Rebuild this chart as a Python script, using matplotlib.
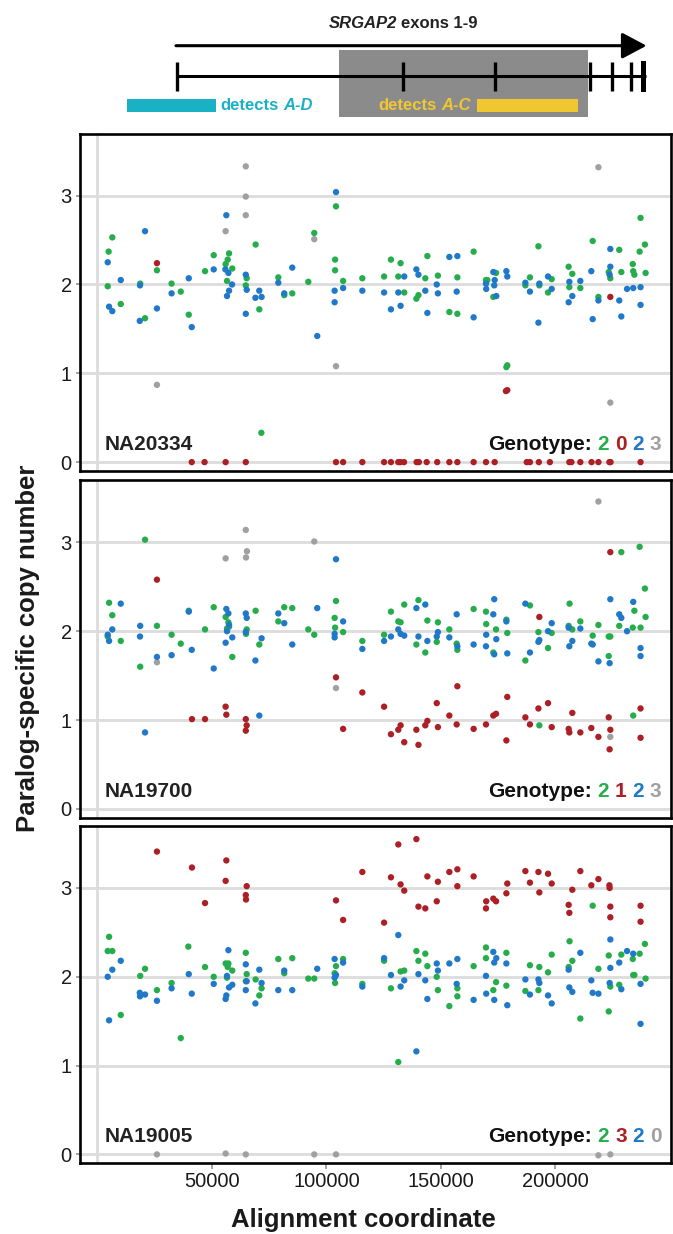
import numpy as np
import matplotlib
matplotlib.use("Agg")
import matplotlib.pyplot as plt
from matplotlib.offsetbox import TextArea, HPacker, AnnotationBbox
from matplotlib.patches import Rectangle, FancyArrowPatch

FONT = ["Liberation Sans", "DejaVu Sans"]
plt.rcParams["font.family"] = FONT

GREEN = "#25ad4b"
RED = "#ab1f25"
BLUE = "#1f78c8"
GRAY = "#a0a0a0"
GRID = "#dcdcdc"

SAMPLES = ["NA20334", "NA19700", "NA19005"]
GENOTYPES = [["2", "0", "2", "3"], ["2", "1", "2", "3"], ["2", "3", "2", "0"]]
XTICKS = [50000, 100000, 150000, 200000]
YTICKS = [0, 1, 2, 3]

# ---------------- gene diagram (alignment coordinates, kb) ----------------
GENE_START_KB = 34.3
GENE_END_KB = 239.8
EXON_TICKS_KB = [34.6, 133.6, 173.5, 215.0, 224.6, 232.9]
LAST_EXON_KB = [237.3, 239.7]
SHADED_KB = [105.7, 214.3]
PROBE_AD_KB = [13.1, 51.9]
PROBE_AC_KB = [165.8, 209.9]

# ---------------- panel 1: NA20334 (x in kb) ----------------
P1_GRAY_X = [64.8, 64.8, 64.8, 56.0, 94.7, 26.0, 104.2, 218.8, 224.0]
P1_GRAY_Y = [3.33, 2.99, 2.78, 2.60, 2.51, 0.87, 1.08, 3.32, 0.67]
P1_RED_X = [26.0, 224.0, 178.4, 179.0,
            41.2, 46.8, 56.0, 64.8, 104.2, 107.3, 115.7,
            125.2, 128.2, 131.4, 132.3, 133.9, 139.4, 140.4, 143.8, 148.4, 153.7,
            157.2, 164.3, 169.7, 173.5, 187.5, 188.9, 192.8, 197.6, 206.1, 207.0,
            210.9, 215.8, 218.8, 223.6, 224.1, 237.2]
P1_RED_Y = [2.24, 1.86, 0.80, 0.81,
            0.0, 0.0, 0.0, 0.0, 0.0, 0.0, 0.0,
            0.0, 0.0, 0.0, 0.0, 0.0, 0.0, 0.0, 0.0, 0.0, 0.0,
            0.0, 0.0, 0.0, 0.0, 0.0, 0.0, 0.0, 0.0, 0.0, 0.0,
            0.0, 0.0, 0.0, 0.0, 0.0, 0.0]
P1_GREEN_X = [6.5, 4.9, 4.5, 10.2, 18.7, 20.8, 26.0, 32.4, 36.4, 39.9, 47.0, 50.8, 57.5,
              56.9, 56.0, 58.9, 56.6, 65.2, 64.8, 69.1, 70.7, 71.6, 79.0, 81.6, 85.1, 92.1,
              94.7, 104.2, 103.8, 103.8, 107.3, 115.7,
              178.6, 179.0, 125.2, 128.2, 131.4, 132.4, 134.0, 139.3, 140.2, 143.2, 144.1,
              148.7, 153.7, 157.2, 157.2, 164.3, 169.7, 170.3, 174.1, 172.9, 186.9, 188.9,
              192.6, 193.0, 198.4, 196.8, 205.8, 207.4, 206.1, 210.9, 216.3, 218.8, 223.3,
              224.0, 227.9, 228.8, 233.8, 234.0, 234.5, 237.2, 236.8, 239.1, 239.4]
P1_GREEN_Y = [2.53, 2.37, 1.98, 1.78, 2.01, 1.62, 2.16, 2.01, 1.92, 1.66, 2.15, 2.33, 2.35,
              2.28, 2.23, 2.18, 2.04, 2.07, 1.99, 2.45, 1.72, 0.33, 2.08, 1.88, 1.90, 2.03,
              2.58, 2.88, 2.28, 2.16, 2.04, 2.07,
              1.07, 1.09, 2.09, 2.28, 2.09, 2.24, 1.91, 1.84, 1.88, 2.07, 2.32,
              2.10, 1.69, 2.08, 1.67, 2.37, 2.05, 2.05, 2.13, 1.86, 1.99, 2.08,
              2.43, 1.99, 2.06, 1.91, 2.20, 2.12, 1.97, 1.96, 2.49, 1.86, 2.14,
              2.07, 2.39, 2.14, 2.23, 2.15, 2.11, 2.75, 2.37, 2.45, 2.13]
P1_BLUE_X = [4.5, 20.8, 10.2, 18.6, 5.1, 6.5, 18.5, 26.0, 32.4, 39.9, 41.2, 50.8, 56.3,
             55.9, 57.2, 58.8, 57.5, 56.6, 64.8, 65.2, 64.8, 69.0, 70.7, 71.7, 79.0, 81.6,
             85.1, 96.0, 104.2, 103.6, 103.6, 107.3, 115.7,
             125.2, 128.2, 131.4, 132.4, 134.0, 139.3, 140.2, 143.2, 144.1, 148.2, 148.7,
             153.7, 157.2, 156.9, 164.3, 169.7, 169.8, 173.5, 172.9, 173.3, 174.2, 178.6,
             179.0, 186.9, 188.9, 192.6, 193.0, 196.8, 198.4, 205.8, 206.1, 207.4, 210.9,
             216.3, 215.7, 218.8, 224.0, 224.0, 223.7, 227.9, 228.8, 231.3, 234.0, 237.2, 237.2]
P1_BLUE_Y = [2.25, 2.60, 2.05, 1.99, 1.75, 1.70, 1.59, 1.73, 1.90, 2.07, 1.52, 2.17, 2.78,
             2.17, 2.13, 2.00, 1.93, 1.87, 2.11, 1.94, 1.67, 1.85, 1.93, 1.86, 2.02, 1.90,
             2.19, 1.42, 3.04, 1.93, 1.80, 1.96, 1.93,
             1.91, 1.72, 1.91, 1.76, 2.09, 2.17, 2.11, 1.93, 1.68, 2.00, 1.90,
             2.31, 2.32, 1.92, 1.63, 2.01, 1.95, 2.05, 2.14, 1.99, 1.87, 2.15,
             2.09, 2.02, 1.92, 1.57, 2.01, 2.09, 1.95, 1.80, 2.03, 1.87, 2.04,
             1.61, 2.15, 1.82, 2.40, 2.20, 2.11, 1.82, 1.64, 1.95, 1.96, 1.97, 1.77]

# ---------------- panel 2: NA19700 ----------------
P2_GRAY_X = [64.8, 65.3, 64.9, 56.0, 94.7, 26.0, 104.2, 218.8, 224.0]
P2_GRAY_Y = [3.14, 2.90, 2.83, 2.82, 3.01, 1.65, 1.36, 3.46, 0.81]
P2_RED_X = [26.0, 41.3, 47.0, 56.0, 56.3, 64.8, 65.2, 64.8, 104.2, 115.7, 107.3,
            224.0, 125.2, 128.2, 131.4, 132.4, 134.0, 139.3, 140.2, 143.2, 144.1,
            148.2, 148.7, 153.7, 157.2, 156.9, 164.3, 169.7, 172.9, 174.1, 179.0,
            178.6, 186.9, 188.9, 192.6, 193.0, 196.8, 198.4, 205.8, 206.1, 207.4,
            210.9, 215.7, 218.8, 223.3, 224.0, 223.7, 237.2, 237.2]
P2_RED_Y = [2.58, 1.01, 1.01, 1.15, 1.06, 1.01, 0.94, 0.88, 1.48, 1.31, 0.90,
            2.89, 1.15, 0.84, 0.89, 0.94, 0.75, 0.89, 0.72, 0.94, 0.99,
            1.19, 0.92, 1.05, 1.38, 0.95, 0.90, 0.95, 1.05, 1.07, 1.26,
            0.77, 1.03, 0.95, 1.13, 2.16, 1.19, 0.92, 0.90, 0.86, 1.08,
            0.86, 0.91, 0.81, 1.03, 0.89, 0.67, 1.13, 0.80]
P2_GREEN_X = [20.8, 5.1, 6.5, 4.5, 10.2, 18.7, 26.0, 32.4, 36.4, 39.9, 47.0, 50.8, 56.0,
              57.2, 56.6, 57.5, 58.9, 69.1, 65.2, 64.9, 70.7, 79.0, 81.6, 85.1, 92.1, 94.7,
              104.2, 103.6, 103.8, 107.3, 115.7,
              228.8, 236.8, 239.1, 239.4, 237.2, 233.8, 234.5, 234.0, 227.9, 218.8, 224.0,
              223.3, 223.3, 216.3, 210.9, 206.2, 205.8, 207.4, 198.4, 196.8, 193.0, 192.6,
              188.9, 186.9, 179.0, 178.6, 174.1, 172.9, 169.8, 169.7, 164.3, 157.2, 156.9,
              153.7, 148.7, 148.2, 144.1, 143.2, 139.3, 140.2, 134.0, 132.4, 131.4, 128.2, 125.2]
P2_GREEN_Y = [3.03, 2.32, 2.18, 1.94, 1.89, 1.60, 2.06, 1.96, 1.86, 2.23, 2.02, 2.27, 2.16,
              2.10, 2.03, 2.05, 1.71, 2.23, 2.02, 1.97, 1.85, 2.11, 2.27, 2.26, 2.02, 1.96,
              2.34, 2.15, 2.04, 1.99, 1.89,
              2.89, 2.95, 2.48, 2.16, 2.04, 2.04, 2.23, 1.05, 2.06, 2.07, 1.94,
              1.94, 1.72, 1.95, 2.11, 2.31, 2.06, 2.02, 1.98, 1.81, 0.94, 1.99,
              2.29, 1.67, 1.98, 2.13, 2.02, 1.76, 2.08, 2.22, 2.25, 1.79, 1.86,
              2.02, 2.10, 1.88, 2.12, 1.76, 1.85, 2.35, 2.30, 2.10, 2.11, 2.22, 1.96]
P2_BLUE_X = [10.2, 6.5, 4.5, 5.1, 18.7, 18.6, 26.0, 32.4, 39.9, 41.2, 50.8, 56.0, 56.3,
             57.2, 57.5, 56.6, 58.9, 64.8, 65.2, 64.8, 69.0, 70.7, 71.7, 79.0, 81.6, 85.1,
             96.0, 104.2, 103.6, 103.6, 107.3, 115.7, 20.8,
             125.2, 128.2, 131.4, 132.4, 134.0, 139.3, 140.2, 143.2, 144.1, 148.2, 148.7,
             153.7, 157.2, 156.9, 164.3, 169.7, 169.8, 173.3, 172.9, 174.2, 173.3, 178.6,
             179.0, 186.9, 188.9, 192.6, 193.0, 196.8, 198.4, 205.8, 206.1, 207.4, 210.9,
             215.7, 216.3, 218.8, 224.0, 227.9, 228.8, 231.3, 234.0, 223.7, 237.2, 237.2]
P2_BLUE_Y = [2.31, 2.02, 1.96, 1.89, 2.06, 1.94, 1.71, 1.73, 2.22, 1.79, 1.58, 1.87, 2.25,
             2.20, 2.07, 2.00, 1.93, 2.20, 2.15, 1.99, 1.67, 1.05, 1.92, 2.20, 2.09, 1.85,
             2.26, 2.81, 1.97, 1.93, 2.11, 1.80, 0.86,
             1.89, 1.94, 2.02, 1.97, 1.95, 2.26, 1.94, 2.30, 1.89, 1.94, 1.99,
             1.93, 1.83, 2.19, 1.85, 1.83, 1.96, 2.36, 2.19, 1.91, 1.74, 2.11,
             1.75, 2.31, 1.76, 1.88, 1.90, 2.00, 2.09, 2.04, 1.83, 1.89, 2.03,
             1.86, 1.85, 1.66, 2.36, 2.19, 2.15, 2.00, 2.33, 1.64, 1.81, 1.72]

# ---------------- panel 3: NA19005 ----------------
P3_GRAY_X = [26.0, 56.0, 64.8, 94.7, 104.2, 218.8, 224.0]
P3_GRAY_Y = [0.0, 0.01, 0.0, 0.0, 0.0, -0.01, 0.0]
P3_RED_X = [26.0, 41.3, 56.3, 56.0, 65.2, 64.8, 64.9, 47.0, 104.2, 107.3, 115.7,
            125.2, 128.2, 131.4, 132.4, 134.0, 139.3, 140.2, 143.2, 144.1, 148.2,
            148.7, 153.7, 157.2, 157.2, 164.3, 169.7, 169.8, 172.9, 174.1, 178.6,
            179.0, 186.9, 188.9, 192.6, 193.0, 196.8, 198.4, 205.8, 206.1, 207.4,
            210.9, 215.7, 218.8, 223.6, 223.7, 224.0, 224.0, 237.2, 237.2]
P3_RED_Y = [3.41, 3.23, 3.31, 3.08, 3.02, 2.92, 2.87, 2.83, 2.86, 2.64, 3.18,
            2.61, 3.12, 3.49, 3.04, 2.97, 3.55, 2.79, 2.77, 3.13, 2.85,
            3.07, 3.18, 3.21, 3.02, 3.13, 2.77, 2.85, 2.88, 2.85, 2.94,
            3.05, 3.19, 3.06, 3.18, 2.95, 3.16, 3.05, 2.81, 2.72, 2.98,
            3.19, 3.03, 3.10, 3.03, 3.00, 2.79, 2.67, 2.80, 2.62]
P3_GREEN_X = [5.1, 4.5, 6.5, 39.7, 10.2, 36.4, 20.8, 18.7, 26.0, 32.4, 47.0, 50.8, 56.0,
              57.2, 56.9, 58.9, 56.6, 64.8, 65.2, 64.8, 69.1, 71.7, 70.7, 79.0, 81.6, 85.1,
              92.1, 94.7, 104.2, 103.6, 103.8, 107.3, 115.7,
              125.2, 128.2, 132.4, 134.0, 139.3, 140.2, 143.2, 144.1, 148.2, 148.7, 153.7,
              157.2, 157.2, 164.3, 169.7, 169.7, 172.9, 174.1, 178.6, 178.6, 186.9, 188.9,
              192.6, 193.0, 196.8, 198.4, 205.8, 206.2, 207.4, 210.9, 216.3, 218.8, 223.3,
              224.0, 223.3, 227.9, 228.8, 233.8, 234.0, 234.5, 236.8, 239.1, 239.4, 131.4]
P3_GREEN_Y = [2.45, 2.29, 2.29, 2.34, 1.57, 1.31, 2.09, 2.01, 1.85, 1.93, 2.11, 2.00, 2.15,
              2.15, 2.11, 2.07, 1.99, 2.27, 2.03, 1.95, 1.97, 1.87, 1.79, 2.20, 2.04, 2.21,
              1.98, 1.98, 2.12, 2.04, 1.93, 2.20, 1.92,
              2.18, 1.87, 2.06, 2.07, 2.29, 2.18, 2.26, 2.12, 2.00, 1.85, 1.67,
              1.87, 1.78, 2.12, 2.33, 2.21, 1.85, 1.94, 2.27, 1.90, 1.84, 2.13,
              1.85, 2.11, 2.05, 2.25, 2.11, 2.40, 2.18, 1.53, 2.80, 2.09, 2.24,
              1.89, 1.61, 1.91, 2.25, 2.20, 2.02, 2.02, 2.26, 2.37, 1.98, 1.04]
P3_BLUE_X = [10.2, 6.5, 4.5, 5.1, 18.5, 18.6, 20.8, 26.0, 32.4, 39.9, 41.2, 50.8, 57.2,
             56.6, 57.5, 58.9, 56.0, 56.3, 64.8, 65.2, 64.8, 69.0, 70.7, 71.7, 79.0, 81.6,
             85.1, 96.0, 103.6, 107.3, 103.6, 104.2, 115.7,
             125.2, 128.2, 131.4, 132.4, 134.0, 139.3, 140.2, 143.2, 144.1, 148.2, 148.7,
             153.7, 157.2, 156.9, 164.3, 169.7, 169.8, 172.9, 174.2, 173.3, 173.3, 178.6,
             179.0, 186.9, 188.9, 192.6, 193.0, 196.8, 198.4, 205.8, 206.1, 207.4, 210.9,
             215.7, 216.3, 218.8, 224.0, 224.0, 223.7, 227.9, 228.8, 231.3, 234.0, 237.2, 237.2]
P3_BLUE_Y = [2.18, 2.08, 2.00, 1.51, 1.82, 1.78, 1.80, 1.73, 1.87, 2.03, 1.81, 1.92, 2.30,
             2.01, 1.88, 1.91, 1.75, 1.79, 2.14, 1.95, 1.85, 1.70, 2.08, 1.93, 1.85, 2.07,
             1.85, 2.09, 2.20, 2.16, 1.99, 2.02, 1.89,
             2.21, 2.02, 2.47, 1.89, 1.96, 1.16, 2.03, 1.96, 1.75, 2.15, 2.07,
             2.15, 2.20, 1.92, 1.74, 2.01, 1.81, 2.28, 2.21, 2.16, 1.74, 2.15,
             1.68, 1.97, 1.80, 1.97, 1.93, 1.79, 1.70, 2.08, 1.88, 1.83, 2.27,
             1.96, 1.82, 1.81, 2.42, 2.10, 1.93, 2.16, 1.86, 2.29, 2.26, 1.92, 1.47]

PANELS = [
    [(P1_GRAY_X, P1_GRAY_Y, GRAY), (P1_GREEN_X, P1_GREEN_Y, GREEN),
     (P1_BLUE_X, P1_BLUE_Y, BLUE), (P1_RED_X, P1_RED_Y, RED)],
    [(P2_GRAY_X, P2_GRAY_Y, GRAY), (P2_GREEN_X, P2_GREEN_Y, GREEN),
     (P2_BLUE_X, P2_BLUE_Y, BLUE), (P2_RED_X, P2_RED_Y, RED)],
    [(P3_GRAY_X, P3_GRAY_Y, GRAY), (P3_GREEN_X, P3_GREEN_Y, GREEN),
     (P3_BLUE_X, P3_BLUE_Y, BLUE), (P3_RED_X, P3_RED_Y, RED)],
]
GENO_COLORS = [GREEN, RED, BLUE, GRAY]
KB = 1000.0


def rich_text(ax, xy, parts, xycoords, box_alignment, size, sep):
    areas = [TextArea(t, textprops=dict(color=c, fontsize=size, fontweight="bold",
                                        fontstyle=st, family=FONT))
             for t, c, st in parts]
    box = HPacker(children=areas, align="baseline", pad=0, sep=sep)
    ab = AnnotationBbox(box, xy, xycoords=xycoords, box_alignment=box_alignment,
                        frameon=False, pad=0, zorder=6)
    ax.add_artist(ab)


W_PX, H_PX = 673, 1234
fig = plt.figure(figsize=(W_PX / 100, H_PX / 100), dpi=100)
fig.patch.set_facecolor("white")

LEFT = 80 / W_PX
WIDTH = 591 / W_PX
HEIGHT = 337.5 / H_PX
BOTTOMS = [1 - 471 / H_PX, 1 - 817.7 / H_PX, 1 - 1163.3 / H_PX]
XLIM = (-7600, 250500)
YLIM = (-0.1, 3.7)

for i, (series, sample, geno, bottom) in enumerate(zip(PANELS, SAMPLES, GENOTYPES, BOTTOMS)):
    ax = fig.add_axes([LEFT, bottom, WIDTH, HEIGHT])
    ax.set_xlim(*XLIM)
    ax.set_ylim(*YLIM)
    for yv in YTICKS:
        ax.axhline(yv, color=GRID, lw=2.0, zorder=0)
    ax.axvline(0, color=GRID, lw=2.0, zorder=0)
    for xs, ys, col in series:
        assert len(xs) == len(ys)
        ax.scatter(np.array(xs) * KB, ys, s=21, color=col, edgecolors="none", zorder=3)
    for sp in ax.spines.values():
        sp.set_linewidth(1.9)
        sp.set_color("black")
    ax.set_yticks(YTICKS)
    ax.set_yticklabels([str(v) for v in YTICKS])
    ax.tick_params(axis="y", length=3, width=1.1, color="#8a8a8a", labelsize=14.5,
                   labelcolor="#1a1a1a", pad=3)
    if i < 2:
        ax.set_xticks([])
    else:
        ax.set_xticks(XTICKS)
        ax.set_xticklabels([str(v) for v in XTICKS])
        ax.tick_params(axis="x", length=4.5, width=1.1, color="#8a8a8a", labelsize=14.5,
                       labelcolor="#1a1a1a", pad=1.5)
    ax.text(0.042, 0.062, sample, transform=ax.transAxes, fontsize=15,
            fontweight="bold", color="#222222", ha="left", va="baseline", zorder=6)
    parts = [("Genotype:", "#111111", "normal")] + [
        (g, c, "normal") for g, c in zip(geno, GENO_COLORS)]
    rich_text(ax, (0.984, 0.05), parts, "axes fraction", (1, 0), 15, 4.2)

# ---------------- gene diagram ----------------
gx = fig.add_axes([LEFT, 1 - 125 / H_PX, WIDTH, 125 / H_PX])
gx.set_xlim(*XLIM)
gx.set_ylim(125, 0)
gx.axis("off")

gx.add_patch(Rectangle((SHADED_KB[0] * KB, 50.4), (SHADED_KB[1] - SHADED_KB[0]) * KB, 66.6,
                       facecolor="#8b8b8b", edgecolor="none", zorder=1))
gx.plot([GENE_START_KB * KB, LAST_EXON_KB[1] * KB], [76, 76], color="black", lw=2.2,
        solid_capstyle="butt", zorder=3)
for e in EXON_TICKS_KB:
    gx.plot([e * KB, e * KB], [62, 91], color="black", lw=2.4, solid_capstyle="butt", zorder=3)
gx.add_patch(Rectangle((LAST_EXON_KB[0] * KB, 61), (LAST_EXON_KB[1] - LAST_EXON_KB[0]) * KB, 31,
                       facecolor="black", edgecolor="none", zorder=3))
arrow = FancyArrowPatch((GENE_START_KB * KB, 45.7), (GENE_END_KB * KB, 45.7),
                        arrowstyle="-|>,head_length=15,head_width=8", mutation_scale=1,
                        lw=2.2, color="black", shrinkA=0, shrinkB=0, zorder=3)
gx.add_patch(arrow)

TEAL = "#1bb1c5"
YELLOW = "#f1c731"
gx.add_patch(Rectangle((PROBE_AD_KB[0] * KB, 99.4), (PROBE_AD_KB[1] - PROBE_AD_KB[0]) * KB, 12.1,
                       facecolor=TEAL, edgecolor="none", zorder=2))
gx.add_patch(Rectangle((PROBE_AC_KB[0] * KB, 99.4), (PROBE_AC_KB[1] - PROBE_AC_KB[0]) * KB, 12.1,
                       facecolor=YELLOW, edgecolor="none", zorder=2))

rich_text(gx, (133.5 * KB, 23.7), [("SRGAP2", "#222222", "italic"), ("exons 1-9", "#222222", "normal")],
          "data", (0.5, 0.5), 12, 3.3)
rich_text(gx, (53.8 * KB, 105.5), [("detects", TEAL, "normal"), ("A-D", TEAL, "italic")],
          "data", (0, 0.5), 12, 3.3)
rich_text(gx, (122.8 * KB, 105.5), [("detects", YELLOW, "normal"), ("A-C", YELLOW, "italic")],
          "data", (0, 0.5), 12, 3.3)

# ---------------- axis titles ----------------
fig.text(28 / W_PX, 1 - 648 / H_PX, "Paralog-specific copy number", rotation=90,
         fontsize=18.5, fontweight="bold", color="#1a1a1a", ha="center", va="center")
fig.text(363 / W_PX, 1 - 1220 / H_PX, "Alignment coordinate", fontsize=18.5,
         fontweight="bold", color="#1a1a1a", ha="center", va="center")

fig.savefig("out.png", dpi=100, facecolor="white")
